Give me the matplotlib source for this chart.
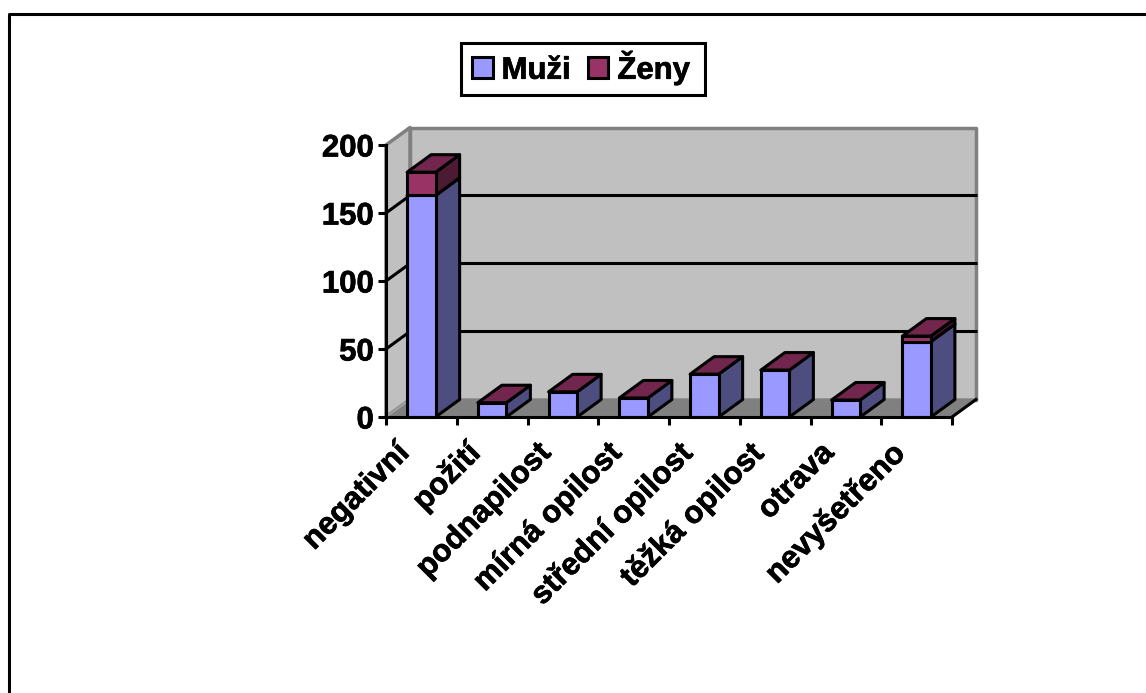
import numpy as np
import matplotlib
matplotlib.use("Agg")
import matplotlib.pyplot as plt
import matplotlib.patheffects as pe
from matplotlib.lines import Line2D
from matplotlib.patches import Patch, Polygon, Rectangle

plt.rcParams["font.family"] = ["Liberation Sans", "DejaVu Sans"]

categories = [
    "negativní",
    "požití",
    "podnapilost",
    "mírná opilost",
    "střední opilost",
    "těžká opilost",
    "otrava",
    "nevyšetřeno",
]
muzi = [163, 10.5, 18.5, 14, 31.5, 34.5, 12.5, 55.5]
zeny = [17, 0, 0, 0, 0, 0, 0, 4]
y_ticks = [0, 50, 100, 150, 200]

MUZI_FRONT, MUZI_SIDE = "#9999ff", "#4d4d80"
ZENY_FRONT, ZENY_TOP, ZENY_SIDE = "#993366", "#73264d", "#4d1a33"
WALL = "#c0c0c0"
FLOOR = "#808080"
EDGE = 2.2
FONT = 22.4
HEAVY = [pe.withStroke(linewidth=0.5, foreground="black")]

W, H = 1146, 693
fig = plt.figure(figsize=(W / 100, H / 100), dpi=100)
ax = fig.add_axes([386 / W, 1 - 417 / H, 566 / W, 272 / H])
n = len(categories)
ax.set_xlim(0, n)
ax.set_ylim(0, 200)
ax.patch.set_visible(False)

# depth of the fake 3d box, in data units
DX = 24 / (566 / n)
DY = 17.5 / 1.36
BAR_W = 28.5 / (566 / n)


def poly(pts, fc, ec="black", lw=EDGE, z=3):
    ax.add_patch(Polygon(pts, closed=True, fc=fc, ec=ec, lw=lw, zorder=z,
                         clip_on=False, joinstyle="round"))


# walls and floor
poly([(DX, DY), (n + DX, DY), (n + DX, 200 + DY), (DX, 200 + DY)], WALL, "#808080", 2.5, 1)
poly([(0, 0), (DX, DY), (DX, 200 + DY), (0, 200)], WALL, "#808080", 2.5, 1)
poly([(0, 0), (n, 0), (n + DX, DY), (DX, DY)], FLOOR, "#808080", 1.5, 1)
ax.plot([n, n + DX], [0, DY], color="black", lw=EDGE, zorder=1.5, clip_on=False)
ax.plot([0, DX], [0, DY], color="#a0a0a0", lw=1.5, zorder=1.5, clip_on=False)

# gridlines run across the side wall and the back wall
for v in y_ticks[1:-1]:
    ax.plot([0, DX, n + DX], [v, v + DY, v + DY], color="black", lw=EDGE,
            zorder=2, clip_on=False)


def box(x0, y0, y1, front, top, side, z):
    x1 = x0 + BAR_W
    poly([(x1, y0), (x1 + DX, y0 + DY), (x1 + DX, y1 + DY), (x1, y1)], side, z=z)
    poly([(x0, y1), (x1, y1), (x1 + DX, y1 + DY), (x0 + DX, y1 + DY)], top, z=z)
    poly([(x0, y0), (x1, y0), (x1, y1), (x0, y1)], front, z=z)


for i, (m, f) in enumerate(zip(muzi, zeny)):
    x0 = i + (1 - BAR_W) / 2
    z = 3 + i * 0.1
    box(x0, 0, m, MUZI_FRONT, ZENY_TOP, MUZI_SIDE, z)
    if f > 0:
        box(x0, m, m + f, ZENY_FRONT, ZENY_TOP, ZENY_SIDE, z + 0.01)

# axes
for s in ["top", "right"]:
    ax.spines[s].set_visible(False)
for s in ["left", "bottom"]:
    ax.spines[s].set_linewidth(EDGE)
    ax.spines[s].set_zorder(6)
ax.set_yticks(y_ticks)
ax.set_xticks(range(n + 1))
ax.set_xticklabels([])
# labels sit left of the tick slot because of the slant
ax.set_xticks(np.arange(n) + 0.12, minor=True)
ax.set_xticklabels(categories, minor=True, rotation=45, ha="right",
                   rotation_mode="anchor", fontsize=FONT, fontweight="bold")
ax.tick_params(axis="x", which="minor", length=0, pad=15)
ax.tick_params(axis="x", which="major", length=5.8, width=EDGE)
ax.tick_params(axis="y", length=5.8, width=EDGE, labelsize=FONT, pad=3)
for t in ax.get_yticklabels():
    t.set_fontweight("bold")
    t.set_path_effects(HEAVY)
for t in ax.get_xticklabels(minor=True):
    t.set_path_effects(HEAVY)

# legend box is drawn separately so its height can differ from the text padding
fig.add_artist(Rectangle((461 / W, 1 - 95 / H), 244 / W, 52 / H, transform=fig.transFigure,
                         fc="white", ec="black", lw=EDGE))
handles = [Patch(fc=MUZI_FRONT, ec="black", lw=EDGE, label="Muži"),
           Patch(fc=ZENY_FRONT, ec="black", lw=EDGE, label="Ženy")]
leg = fig.legend(handles=handles, ncol=2, loc="center",
                 bbox_to_anchor=(581 / W, 1 - 68 / H),
                 prop={"family": "Liberation Sans", "weight": "bold", "size": FONT},
                 frameon=False,
                 handlelength=0.66, handleheight=0.66, handletextpad=0.29,
                 columnspacing=0.55, borderpad=0.38, borderaxespad=0)
leg.set_zorder(5)
for t in leg.get_texts():
    t.set_path_effects(HEAVY)

# border of the chart area, only its top and left edges fall on the canvas
fig.add_artist(Line2D([8.5 / W, 8.5 / W, 1], [0, 1 - 14 / H, 1 - 14 / H],
                      transform=fig.transFigure, color="black", lw=EDGE))

fig.savefig("out.png", dpi=100)
